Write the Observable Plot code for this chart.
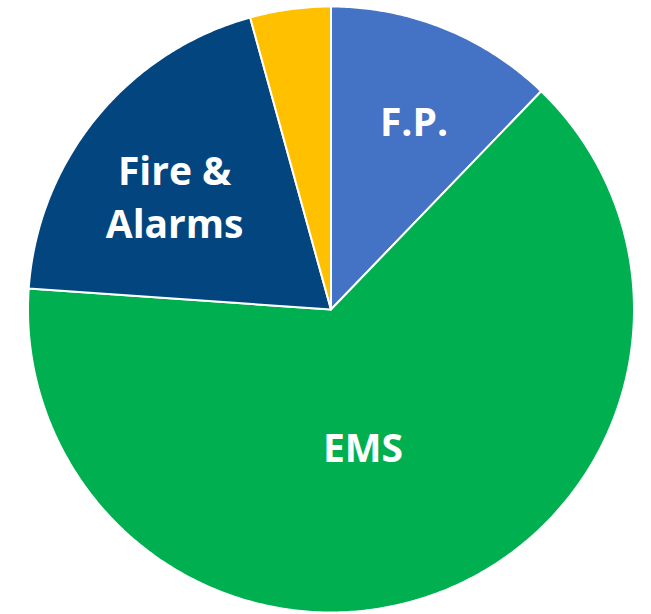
<!DOCTYPE html>
<html>
<head>
<meta charset="utf-8">
<script src="https://cdn.jsdelivr.net/npm/d3@7"></script>
<script src="https://cdn.jsdelivr.net/npm/@observablehq/plot@0.6"></script>
<style>
  html, body { margin: 0; padding: 0; background: #fff; }
  #chart svg { display: block; }
</style>
</head>
<body>
<div id="chart"></div>
<script>
// ---- data ----
const categories = ["F.P.", "EMS", "Fire & Alarms", "Other"];
const values = [12.2, 63.9, 19.6, 4.3];
const labels = ["F.P.", "EMS", "Fire &\nAlarms", ""];

// ---- styling / layout ----
const colors = ["#4472C4", "#00B050", "#03467F", "#FFC000"];
const labelRadius = [0.685, 0.46, 0.64, 0.6];   // fraction of radius
const labelAngleShift = [1.6, 7.8, -3, 0];       // degrees

const arcs = d3.pie().sort(null).value(d => d)(values);

function pt(a, r) { return [r * Math.sin(a), r * Math.cos(a)]; }

const slices = arcs.map((a, i) => {
  const ring = [[0, 0]];
  const n = Math.max(2, Math.ceil((a.endAngle - a.startAngle) / (Math.PI / 360)));
  for (let k = 0; k <= n; k++) {
    ring.push(pt(a.startAngle + (a.endAngle - a.startAngle) * k / n, 1));
  }
  ring.push([0, 0]);
  return {
    type: "Feature",
    properties: { name: categories[i], color: colors[i] },
    geometry: { type: "Polygon", coordinates: [ring] }
  };
});

const labelData = arcs.map((a, i) => {
  const mid = (a.startAngle + a.endAngle) / 2 + labelAngleShift[i] * Math.PI / 180;
  const [x, y] = pt(mid, labelRadius[i]);
  return { x, y, text: labels[i] };
}).filter(d => d.text);

const domain = { type: "MultiPoint", coordinates: [[-1, 0], [1, 0], [0, -1], [0, 1]] };

const chart = Plot.plot({
  width: 651,
  height: 614,
  marginLeft: 27.5,
  marginRight: 17.5,
  marginTop: 6,
  marginBottom: 2,
  projection: { type: "reflect-y", domain, inset: 0 },
  style: { background: "#fff" },
  marks: [
    Plot.geo(slices, { fill: d => d.properties.color, stroke: "#fff", strokeWidth: 2, strokeLinejoin: "round" }),
    Plot.text(labelData, {
      x: "x", y: "y", text: "text",
      fill: "#fff",
      fontSize: 39,
      fontWeight: "bold",
      fontFamily: "'Open Sans', sans-serif",
      lineHeight: 1.36,
      textAnchor: "middle",
      lineAnchor: "middle"
    })
  ]
});
document.getElementById("chart").appendChild(chart);
</script>
</body>
</html>
